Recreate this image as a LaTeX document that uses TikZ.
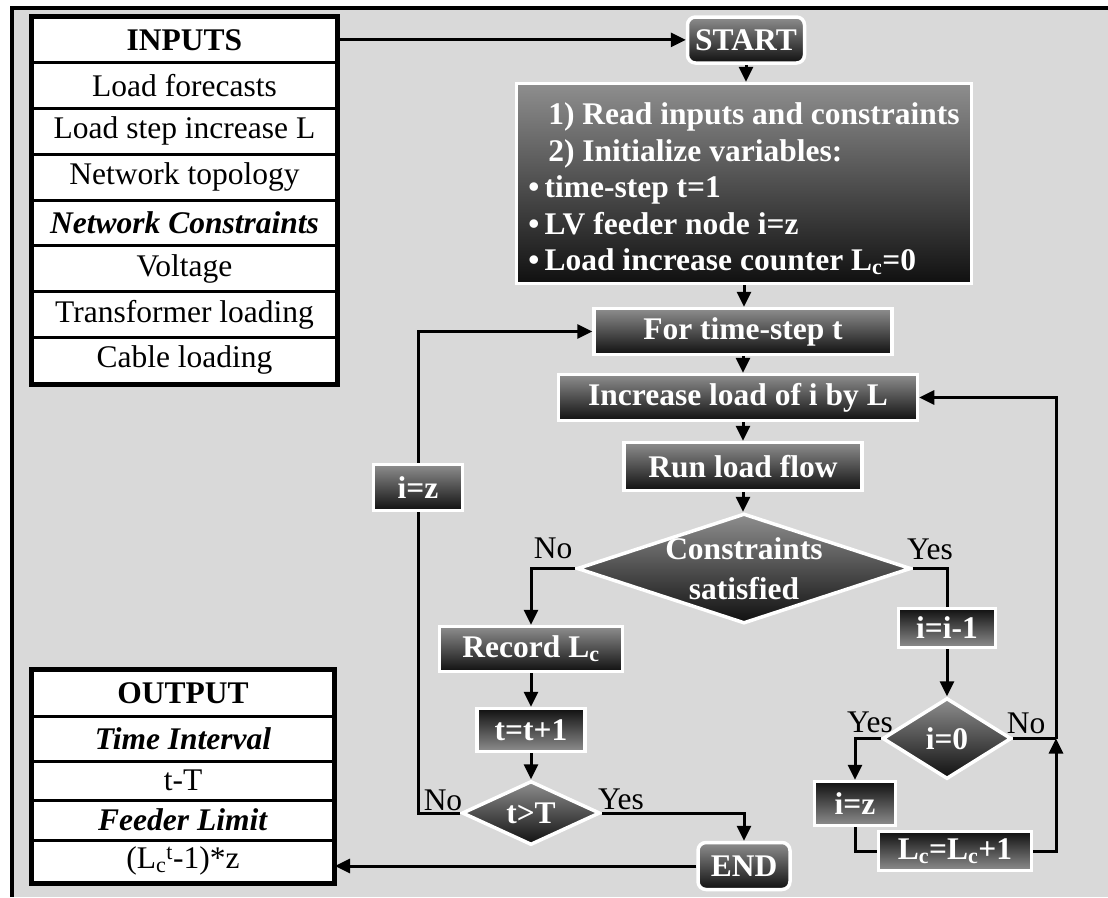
\documentclass[tikz,border=0pt]{standalone}
\usepackage{fontspec}
\setmainfont{Liberation Serif}
\usepackage{tikz}
\usetikzlibrary{arrows.meta, shapes.geometric}
\definecolor{PanelGrey}{HTML}{D9D9D9}
\definecolor{ShadeLight}{HTML}{8E8E8E}
\definecolor{ShadeDark}{HTML}{101010}

\begin{document}
\begin{tikzpicture}[
    x=1pt, y=-1pt,
    font=\fontsize{31.5}{37}\selectfont,
    line/.style={draw, line width=3pt},
    arr/.style={line, -{Triangle[length=15pt,width=14pt]}},
    block/.style={
        rectangle, draw=white, line width=3.5pt,
        top color=ShadeLight, bottom color=ShadeDark,
        text=white, font=\fontsize{31.5}{37}\selectfont\bfseries,
        inner sep=0pt
    },
    flip/.style={top color=ShadeDark, bottom color=ShadeLight},
    term/.style={block, rounded corners=8pt},
    decision/.style={
        diamond, draw=white, line width=3.5pt, inner sep=0pt,
        top color=ShadeLight, bottom color=ShadeDark
    },
    dtext/.style={text=white, font=\fontsize{31.5}{40}\selectfont\bfseries, align=center, inner sep=0pt},
    cell/.style={rectangle, draw=black, line width=3pt, fill=white, inner sep=0pt},
    note/.style={text=black, inner sep=0pt}
]
    \useasboundingbox (0,0) rectangle (1108,897);

    % Panel and frame
    \fill[white] (0,0) rectangle (1108,897);
    \fill[PanelGrey] (12,8) rectangle (1108,897);
    \draw[line width=4pt] (10,8) -- (1108,8);
    \draw[line width=4pt] (12,6) -- (12,897);

    % Input and output tables
    \foreach \txt [count=\k] in {{\textbf{INPUTS}}, Load forecasts, Load step increase L, Network topology,
        {\textbf{\textit{Network Constraints}}}, Voltage, Transformer loading, Cable loading}
        \node[cell, minimum width=304pt, minimum height=45.75pt] (in\k) at (184.5, {17+45.75*(\k-0.5)}) {\txt};
    \draw[line width=4pt] (in1.north west) rectangle (in8.south east);

    \foreach \ya/\yb/\txt [count=\k] in {670/716/{\textbf{OUTPUT}}, 716/761/{\textbf{\textit{Time Interval}}},
        761/800/t-T, 800/840/{\textbf{\textit{Feeder Limit}}}, 840/882/{(L\textsubscript{c}\textsuperscript{t}-1)*z}}
        \node[cell, minimum width=301pt, minimum height={\yb-\ya}] (out\k) at (183, {(\ya+\yb)/2}) {\txt};
    \draw[line width=4pt] (out1.north west) rectangle (out5.south east);

    % Main column
    \node[term, minimum width=117pt, minimum height=46pt] (start) at (746,40) {START};
    \node[block, minimum width=455pt, minimum height=200pt, align=left,
        font=\fontsize{31.5}{36.5}\selectfont\bfseries] (init) at (744,183.5)
        {\rule{0pt}{32pt}\hspace*{20pt}1) Read inputs and constraints\\
         \hspace*{20pt}2) Initialize variables:\\
         \textbullet\,time-step t=1\\
         \textbullet\,LV feeder node i=z\\
         \textbullet\,Load increase counter L\textsubscript{c}=0};
    \node[block, minimum width=298pt, minimum height=46pt] (forstep) at (743,331.5) {For time-step t};
    \node[block, minimum width=359pt, minimum height=46pt] (incload) at (738,397.5) {Increase load of i by L};
    \node[block, minimum width=238pt, minimum height=48pt] (runflow) at (743,466.5) {Run load flow};
    \node[decision, minimum width=334pt, minimum height=110pt] (constr) at (744,568.5) {};
    \node[dtext] (constrtxt) at (constr) {Constraints\\satisfied};

    % Left branch
    \node[block, minimum width=183pt, minimum height=45pt] (record) at (531,649) {Record L\textsubscript{c}};
    \node[block, flip, minimum width=108pt, minimum height=43pt] (tstep) at (531,730) {t=t+1};
    \node[decision, minimum width=138pt, minimum height=64pt] (tcheck) at (531,813) {};
    \node[dtext] (tchecktxt) at (tcheck) {t>T};
    \node[term, minimum width=92pt, minimum height=47pt] (stop) at (744,866) {END};
    \node[block, minimum width=89pt, minimum height=46pt] (resetl) at (418,487.5) {i=z};

    % Right branch
    \node[block, flip, minimum width=97pt, minimum height=39pt] (dec) at (947,628) {i=i-1};
    \node[decision, minimum width=129pt, minimum height=81pt] (izero) at (947,738.5) {};
    \node[dtext] (izerotxt) at (izero) {i=0};
    \node[block, flip, minimum width=81pt, minimum height=44pt] (resetr) at (855,803.5) {i=z};
    \node[block, flip, minimum width=153pt, minimum height=39pt] (count) at (955,851) {L\textsubscript{c}=L\textsubscript{c}+1};
    \coordinate (join) at (1056,738.5);

    % Branch labels
    \node[note] (nocon) at (553,548) {No};
    \node[note] (yescon) at (930,549) {Yes};
    \node[note] (yeszero) at (870,722) {Yes};
    \node[note] (nozero) at (1026,723) {No};
    \node[note] (notime) at (443,800) {No};
    \node[note] (yestime) at (621,799) {Yes};

    % Arrows
    \draw[arr] (in1.east) -- (in1.east -| start.west);
    \draw[arr] (start.south) -- (start.south |- init.north);
    \draw[arr] (init.south) -- (init.south |- forstep.north);
    \draw[arr] (forstep.south) -- (forstep.south |- incload.north);
    \draw[arr] (runflow.north |- incload.south) -- (runflow.north);
    \draw[arr] (runflow.south) -- (runflow.south |- constr.north);
    \draw[arr] (constr.west) -| (record.north);
    \draw[arr] (record.south) -- (tstep.north);
    \draw[arr] (tstep.south) -- (tcheck.north);
    \draw[arr] (tcheck.east) -| (stop.north);
    \draw[arr] (stop.west) -- (stop.west -| out5.east);
    \draw[line] (tcheck.west) -| (resetl.south);
    \draw[arr] (resetl.north) |- (forstep.west);
    \draw[line] (constr.east) -| (dec.north);
    \draw[arr] (dec.south) -- (izero.north);
    \draw[arr] (izero.west) -| (resetr.north);
    \draw[line] (resetr.south) |- (count.west);
    \draw[arr] (count.east) -| (join);
    \draw[line] (izero.east) -- (join);
    \draw[arr] (join) |- (incload.east);

\end{tikzpicture}
\end{document}
